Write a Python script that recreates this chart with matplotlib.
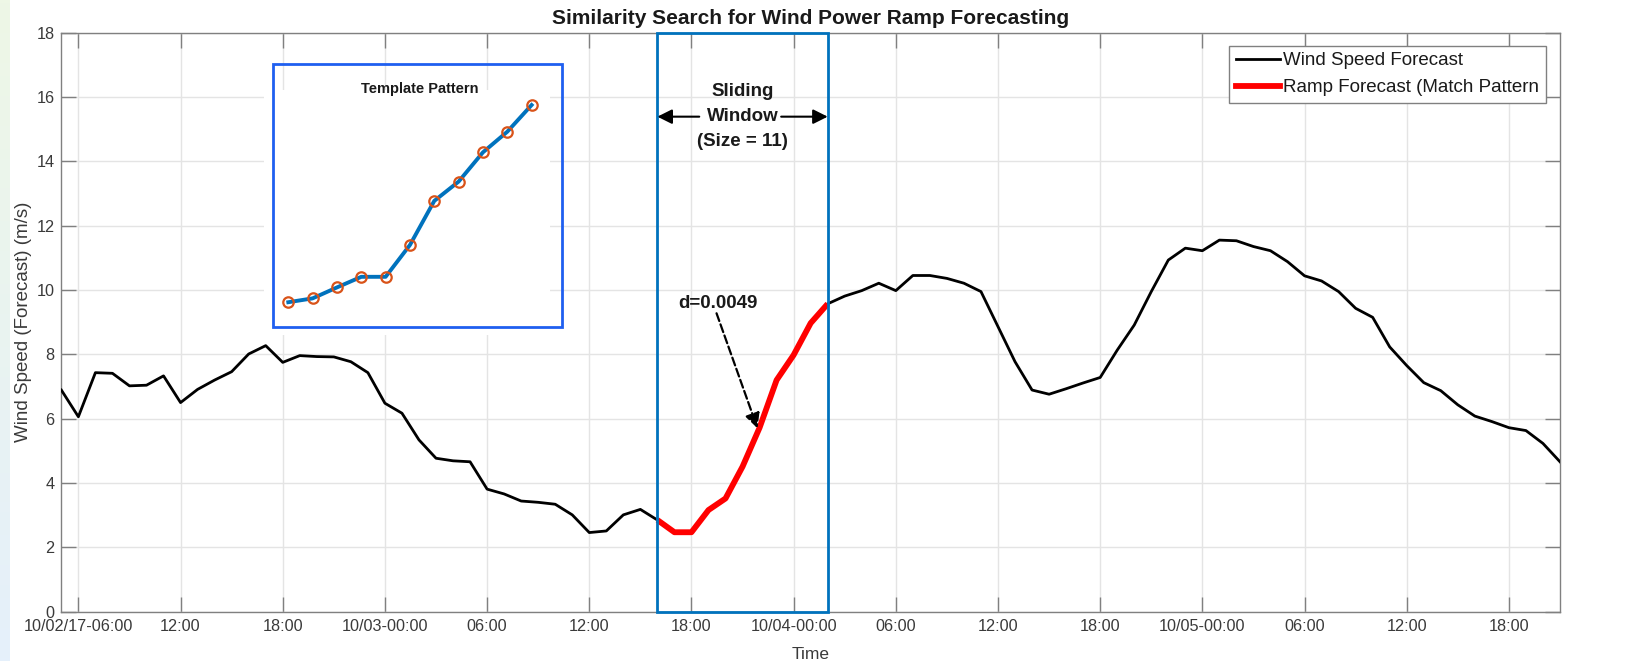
import numpy as np
import matplotlib
matplotlib.use("Agg")
import matplotlib.pyplot as plt
from matplotlib.patches import Rectangle
from matplotlib.lines import Line2D

plt.rcParams['font.family'] = ['Liberation Sans', 'DejaVu Sans']

# ---------------- data ----------------
# hourly forecast, starting 10/02/17 05:00
hours = np.arange(89)
wind_speed = [6.89, 6.06, 7.43, 7.41, 7.02, 7.04, 7.33, 6.50, 6.91, 7.20,
              7.46, 8.01, 8.27, 7.75, 7.96, 7.93, 7.92, 7.77, 7.43, 6.48,
              6.17, 5.34, 4.77, 4.69, 4.66, 3.81, 3.66, 3.44, 3.40, 3.34,
              3.01, 2.46, 2.51, 3.01, 3.18, 2.85, 2.47, 2.47, 3.16, 3.52,
              4.51, 5.72, 7.20, 7.98, 8.97, 9.57, 9.81, 9.98, 10.21, 9.98,
              10.45, 10.45, 10.36, 10.21, 9.95, 8.86, 7.77, 6.89, 6.76, 6.93,
              7.11, 7.28, 8.13, 8.91, 9.95, 10.93, 11.30, 11.22, 11.55, 11.53,
              11.35, 11.22, 10.88, 10.44, 10.28, 9.95, 9.43, 9.15, 8.23, 7.65,
              7.12, 6.87, 6.43, 6.08, 5.91, 5.72, 5.63, 5.23, 4.66]
window_start = 35      # 10/03 16:00
window_size = 11

template = [9.62, 9.74, 10.08, 10.41, 10.41, 11.40, 12.77, 13.37, 14.28, 14.92, 15.75]

tick_hours = np.arange(1, 89, 6)
tick_labels = ["10/02/17-06:00", "12:00", "18:00", "10/03-00:00", "06:00", "12:00",
               "18:00", "10/04-00:00", "06:00", "12:00", "18:00", "10/05-00:00",
               "06:00", "12:00", "18:00"]
y_ticks = np.arange(0, 19, 2)

# ---------------- layout helpers ----------------
W, H = 1630, 661
fig = plt.figure(figsize=(W / 100, H / 100), dpi=100)
fig.patch.set_facecolor('white')

def fx(px):
    return px / W

def fy(py):
    return 1 - py / H

# left decorative gradient strip
strip = fig.add_axes([0, 0, 10 / W, 1], zorder=-5)
top_c = np.array([238, 247, 230]) / 255
bot_c = np.array([229, 240, 251]) / 255
t = np.linspace(0, 1, 200)[:, None]
grad = (top_c[None, :] * (1 - t) + bot_c[None, :] * t)[:, None, :]
strip.imshow(grad, aspect='auto', extent=[0, 1, 0, 1])
strip.axis('off')

# main axes
L, R, T, B = 61.35, 1560, 32.6, 611.7
ax = fig.add_axes([fx(L), fy(B), fx(R) - fx(L), (B - T) / H])

ax.plot(hours, wind_speed, color='black', lw=2, zorder=3)
ws = slice(window_start, window_start + window_size)
ax.plot(hours[ws], wind_speed[ws], color='red', lw=4.2, zorder=3.5,
        solid_capstyle='butt')

ax.set_xlim(0, 88)
ax.set_ylim(0, 18)
ax.set_xticks(tick_hours)
ax.set_xticklabels(tick_labels)
ax.set_yticks(y_ticks)
ax.grid(True, color='#e4e4e4', lw=1)
ax.set_axisbelow(True)
for s in ax.spines.values():
    s.set_color('#808080')
    s.set_linewidth(1)
ax.tick_params(direction='in', length=11, width=1, top=True, right=True,
               color='#808080', labelcolor='#3a3a3a', labelsize=11.7, pad=5)

ax.set_ylabel('Wind Speed (Forecast) (m/s)', fontsize=13.5, color='#3a3a3a')
ax.yaxis.set_label_coords((32 - L) / (R - L), 0.5)
ax.set_xlabel('Time', fontsize=12.5, color='#3a3a3a')
ax.xaxis.set_label_coords(0.5, -(647 - B) / (B - T))

# sliding window box
ax.add_patch(Rectangle((hours[window_start], 0),
                       hours[window_start + window_size - 1] - hours[window_start], 18,
                       fill=False, ec='#0072BD', lw=2, zorder=4, clip_on=False))

def hx(px):
    return (px - L) / 17.05

def vy(py):
    return (B - py) / 32.17

xc = hx(743.3)
ax.text(xc, vy(91.7), 'Sliding', ha='center', va='center', fontsize=13.5,
        fontweight='bold', color='#1a1a1a', zorder=5)
ax.text(xc, vy(116.7), 'Window', ha='center', va='center', fontsize=13.5,
        fontweight='bold', color='#1a1a1a', zorder=5)
ax.text(xc, vy(141.7), '(Size = 11)', ha='center', va='center', fontsize=13.5,
        fontweight='bold', color='#1a1a1a', zorder=5)

arrow_kw = dict(arrowstyle='-|>', color='black', lw=1.5, mutation_scale=22,
                shrinkA=0, shrinkB=0)
ax.annotate('', xy=(hours[window_start], vy(116.7)), xytext=(hx(700), vy(116.7)),
            arrowprops=arrow_kw, zorder=5)
ax.annotate('', xy=(hours[window_start + window_size - 1], vy(116.7)),
            xytext=(hx(782), vy(116.7)), arrowprops=arrow_kw, zorder=5)

ax.text(hx(718.3), vy(303.3), 'd=0.0049', ha='center', va='center', fontsize=13.5,
        fontweight='bold', color='#1a1a1a', zorder=5)
ax.annotate('', xy=(hx(758.3), vy(428.3)), xytext=(hx(717.3), vy(313.3)),
            arrowprops=dict(arrowstyle='-|>', color='black', lw=1.6, ls='--',
                            mutation_scale=22, shrinkA=0, shrinkB=0), zorder=5)

# legend
handles = [Line2D([], [], color='black', lw=2),
           Line2D([], [], color='red', lw=4.2)]
leg = ax.legend(handles, ['Wind Speed Forecast', 'Ramp Forecast (Match Pattern'],
                loc='upper left', bbox_to_anchor=(fx(1229), fy(45.7)),
                bbox_transform=fig.transFigure, fontsize=13.5, fancybox=False,
                edgecolor='#808080', framealpha=1, handlelength=2.35,
                handletextpad=0.2, borderpad=0.35, labelspacing=0.52,
                borderaxespad=0)
leg.get_frame().set_linewidth(1)
for txt in leg.get_texts():
    txt.set_color('#1a1a1a')

# title
fig.text(fx((L + R) / 2), fy(18), 'Similarity Search for Wind Power Ramp Forecasting',
         ha='center', va='center', fontsize=15, fontweight='bold', color='#1a1a1a')

# template inset
iL, iR, iT, iB = 264, 550, 90, 335
ins = fig.add_axes([fx(iL), fy(iB), fx(iR) - fx(iL), (iB - iT) / H], zorder=2)
ins.set_xticks([])
ins.set_yticks([])
for s in ins.spines.values():
    s.set_visible(False)
idx = np.arange(len(template))
ins.set_xlim((iL - 288.3) / 24.33, (iR - 288.3) / 24.33)
ins.set_ylim(vy(iB), vy(iT))
ins.plot(idx, template, color='#0072BD', lw=2.8, marker='o', mfc='none',
         mec='#D95319', ms=7.5, mew=1.6, zorder=3)
fig.add_artist(Rectangle((fx(272.7), fy(327.3)), fx(562.3) - fx(272.7), (327.3 - 64) / H,
                         transform=fig.transFigure, fill=False, ec='#1f5ff0', lw=2,
                         zorder=10))
fig.text(fx(420), fy(89.3), 'Template Pattern', ha='center', va='center',
         fontsize=10.5, fontweight='bold', color='#1a1a1a', zorder=11)

fig.savefig('out.png', dpi=100)
